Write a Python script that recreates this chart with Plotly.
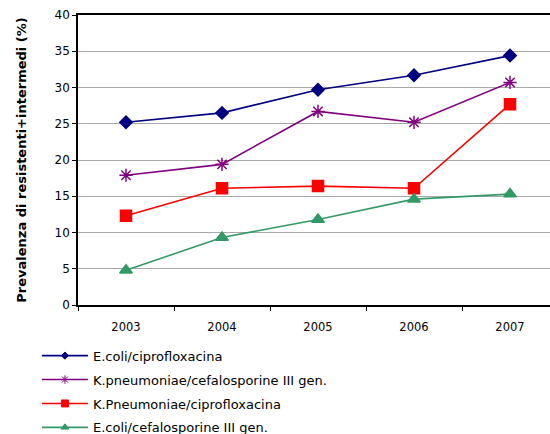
import plotly.graph_objects as go

years = ["2003", "2004", "2005", "2006", "2007"]
ecoli_cipro = [25.2, 26.5, 29.7, 31.7, 34.4]
kpn_cefalo = [17.9, 19.4, 26.7, 25.2, 30.7]
kpn_cipro = [12.3, 16.1, 16.4, 16.1, 27.7]
ecoli_cefalo = [4.8, 9.3, 11.8, 14.6, 15.3]

names = ["E.coli/ciprofloxacina", "K.pneumoniae/cefalosporine III gen.",
         "K.Pneumoniae/ciprofloxacina", "E.coli/cefalosporine III gen."]
series = [ecoli_cipro, kpn_cefalo, kpn_cipro, ecoli_cefalo]
colors = ["#000080", "#800080", "#FF0000", "#339966"]
symbols = ["diamond", "asterisk-open", "square", "triangle-up"]
sizes = [9.5, 11, 11, 11]
legend_sizes = [5.5, 7, 7, 7]

fig = go.Figure()
for i, (n, s, c, sym, sz) in enumerate(zip(names, series, colors, symbols, sizes)):
    fig.add_trace(go.Scatter(
        x=years, y=s, name=n, mode="lines+markers",
        line=dict(color=c, width=1.6),
        marker=dict(symbol=sym, size=sz, color=c, line=dict(color=c, width=1.5)),
        legendgroup=str(i), showlegend=False,
    ))
for i, (n, c, sym, lsz) in enumerate(zip(names, colors, symbols, legend_sizes)):
    fig.add_trace(go.Scatter(
        x=[None], y=[None], name=n, mode="lines+markers",
        line=dict(color=c, width=1.6),
        marker=dict(symbol=sym, size=lsz, color=c, line=dict(color=c, width=1)),
        legendgroup=str(i), showlegend=True,
    ))

fig.update_layout(
    width=550, height=434,
    margin=dict(l=78, r=0, t=15, b=129),
    paper_bgcolor="white", plot_bgcolor="white",
    font=dict(family="DejaVu Sans", size=11, color="#000000"),
    showlegend=True,
    legend=dict(x=-0.087, yref="container", y=0.215,
                xanchor="left", yanchor="top", itemwidth=46,
                font=dict(size=13), tracegroupgap=4, bgcolor="rgba(0,0,0,0)"),
    xaxis=dict(type="category", range=[-0.5, 4.4167], showline=True, linecolor="black",
               linewidth=1.5, mirror=True, ticks="outside", tickson="boundaries",
               ticklen=4, tickcolor="black", showgrid=False, tickangle=0,
               tickfont=dict(size=11.5), ticklabelstandoff=10),
    yaxis=dict(range=[0, 40], dtick=5, showline=True, linecolor="black", linewidth=1.5,
               ticks="outside", ticklen=4, tickcolor="black",
               showgrid=True, gridcolor="#a8a8a8", gridwidth=1,
               zeroline=False, tickfont=dict(size=12),
               title=dict(text="<b>Prevalenza di resistenti+intermedi (%)</b>",
                          font=dict(size=13), standoff=25)),
)

fig.write_html("out.html", config={"displayModeBar": False},
               post_script="document.body.style.margin='0';document.body.style.overflow='hidden';")
